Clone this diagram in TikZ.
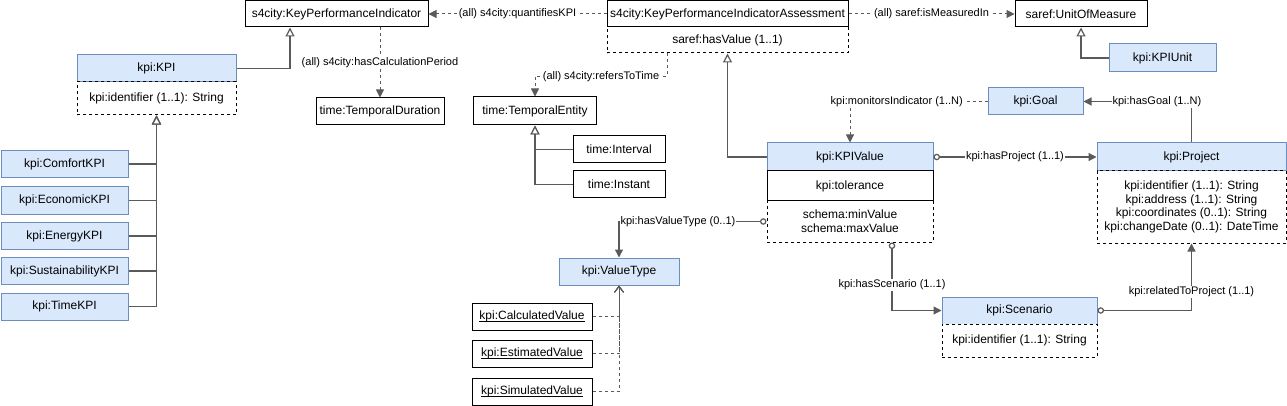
\documentclass[tikz,border=0pt]{standalone}
\usepackage{fontspec}
\setmainfont{Liberation Sans}
\usetikzlibrary{arrows.meta,calc}
\definecolor{bfill}{HTML}{DAE8FC}
\definecolor{bdraw}{HTML}{6C8EBF}
\definecolor{lgray}{HTML}{5A5A5A}
\newcommand\myul[1]{\setbox0\hbox{#1}\rlap{\rule[-1.8pt]{\wd0}{0.7pt}}\box0}
\begin{document}
\begin{tikzpicture}[x=1pt,y=-1pt,
  box/.style={draw=black, fill=white, line width=1pt, inner sep=0pt, align=center, font=\fontsize{12}{14}\selectfont},
  blue/.style={box, draw=bdraw, fill=bfill},
  attr/.style={box, dashed, dash pattern=on 3pt off 3pt},
  lbl/.style={fill=white, inner sep=1pt, font=\fontsize{11}{13}\selectfont, text=black},
  gen/.style={draw=lgray, line width=1.2pt, -{Triangle[open, length=9pt, width=9pt, fill=white]}},
  dep/.style={draw=lgray, line width=1pt, dash pattern=on 3pt off 3pt, -{Triangle[length=8pt, width=8pt]}},
  assoc/.style={draw=lgray, line width=1.2pt, -{Triangle[length=8pt, width=8pt]}},
  inst/.style={draw=lgray, line width=1pt, dash pattern=on 3pt off 3pt, -{Straight Barb[length=6pt, width=9pt]}},
  ocirc/.style={{Circle[open, length=6.5pt, width=6.5pt, fill=white]}-{Triangle[length=8pt, width=8pt]}}
]
\useasboundingbox (0,0) rectangle (1287,406);

% classes
\node[box, minimum width=183pt, minimum height=26pt] (kpiInd) at (336.5,14) {s4city:KeyPerformanceIndicator};
\node[box, minimum width=241pt, minimum height=26pt] (assess) at (727.5,14) {s4city:KeyPerformanceIndicatorAssessment};
\node[attr, minimum width=241pt, minimum height=26pt] (assessattr) at (727.5,40) {saref:hasValue (1..1)};
\node[box, minimum width=132pt, minimum height=26pt] (uom) at (1081,14) {saref:UnitOfMeasure};
\node[blue, minimum width=107pt, minimum height=28pt] (kpiunit) at (1162.5,58) {kpi:KPIUnit};
\node[blue, minimum width=95pt, minimum height=27pt] (goal) at (1035.5,101.5) {kpi:Goal};

\node[blue, minimum width=159pt, minimum height=27pt] (kpi) at (156.5,68.5) {kpi:KPI};
\node[attr, minimum width=159pt, minimum height=33pt] (kpiattr) at (156.5,98.5) {kpi:identifier (1..1): String};

\node[box, minimum width=128pt, minimum height=27pt] (tdur) at (380,111.5) {time:TemporalDuration};
\node[box, minimum width=123pt, minimum height=28pt] (tent) at (535,111) {time:TemporalEntity};
\node[box, minimum width=92pt, minimum height=27pt] (interval) at (619,149.5) {time:Interval};
\node[box, minimum width=92pt, minimum height=27pt] (instant) at (619,184.5) {time:Instant};

\node[blue, minimum width=166pt, minimum height=28pt] (kpivalue) at (850,157) {kpi:KPIValue};
\node[box, minimum width=166pt, minimum height=30pt] (tol) at (850,186) {kpi:tolerance};
\node[attr, minimum width=166pt, minimum height=41pt] (minmax) at (850,221.5) {schema:minValue\\schema:maxValue};

\node[blue, minimum width=189pt, minimum height=28pt] (proj) at (1191.5,157) {kpi:Project};
\node[attr, minimum width=189pt, minimum height=72pt, font=\fontsize{12}{13.5}\selectfont] (projattr) at (1191.5,207) {kpi:identifier (1..1): String\\kpi:address (1..1): String\\kpi:coordinates (0..1): String\\kpi:changeDate (0..1): DateTime};

\node[blue, minimum width=120pt, minimum height=27pt] (valuetype) at (619,271.5) {kpi:ValueType};
\node[box, minimum width=120pt, minimum height=27pt] (calc) at (532,316.5) {\myul{kpi:CalculatedValue}};
\node[box, minimum width=120pt, minimum height=27pt] (est) at (532,353.5) {\myul{kpi:EstimatedValue}};
\node[box, minimum width=120pt, minimum height=27pt] (sim) at (532,391.5) {\myul{kpi:SimulatedValue}};

\node[blue, minimum width=155pt, minimum height=27pt] (scen) at (1019.5,310.5) {kpi:Scenario};
\node[attr, minimum width=155pt, minimum height=33pt] (scenattr) at (1019.5,340.5) {kpi:identifier (1..1): String};

\node[blue, minimum width=127pt, minimum height=27pt] (comfort) at (64.5,164) {kpi:ComfortKPI};
\node[blue, minimum width=127pt, minimum height=27pt] (econ) at (64.5,200.5) {kpi:EconomicKPI};
\node[blue, minimum width=127pt, minimum height=27pt] (energy) at (64.5,236) {kpi:EnergyKPI};
\node[blue, minimum width=127pt, minimum height=27pt] (sust) at (64.5,271) {kpi:SustainabilityKPI};
\node[blue, minimum width=127pt, minimum height=27pt] (timek) at (64.5,306.5) {kpi:TimeKPI};

% generalizations
\draw[gen] (kpi.east) -| ([xshift=-46.5pt]kpiInd.south);
\draw[gen] (kpiunit.west) -| (uom.south);
\draw[gen] (kpivalue.west) -| (assessattr.south);
\foreach \s in {comfort,econ,energy,sust,timek}
  \draw[gen] (\s.east) -| (kpiattr.south);
\draw[gen] (interval.west) -| (tent.south);
\draw[gen] (instant.west) -| (tent.south);
\foreach \s in {calc,est,sim}
  \draw[inst] (\s.east) -| (valuetype.south);

% dependencies
\draw[dep] (assess.west) -- node[lbl]{(all) s4city:quantifiesKPI} (kpiInd.east);
\draw[dep] (assess.east) -- node[lbl]{(all) saref:isMeasuredIn} (uom.west);
\draw[dep] (kpiInd.south -| tdur.north) -- node[lbl]{(all) s4city:hasCalculationPeriod} (tdur.north);
\draw[dep] ([xshift=-60.5pt]assessattr.south) |- node[lbl, pos=0.75]{(all) s4city:refersToTime} ($(tent.north)+(0,-20)$) -- (tent.north);
\draw[dep] (goal.west) -| node[lbl, pos=0.33]{kpi:monitorsIndicator (1..N)} (kpivalue.north);

% associations
\draw[assoc] (proj.north) |- node[lbl, pos=0.66]{kpi:hasGoal (1..N)} (goal.east);
\draw[assoc, ocirc] (kpivalue.east) -- node[lbl]{kpi:hasProject (1..1)} (proj.west);
\draw[assoc, ocirc] (minmax.west) -| node[lbl, pos=0.3]{kpi:hasValueType (0..1)} (valuetype.north);
\draw[assoc, ocirc] ([xshift=42pt]minmax.south) |- node[lbl, pos=0.31]{kpi:hasScenario (1..1)} (scen.west);
\draw[assoc, ocirc] (scen.east) -| node[lbl, pos=0.64]{kpi:relatedToProject (1..1)} (projattr.south);
\end{tikzpicture}
\end{document}
